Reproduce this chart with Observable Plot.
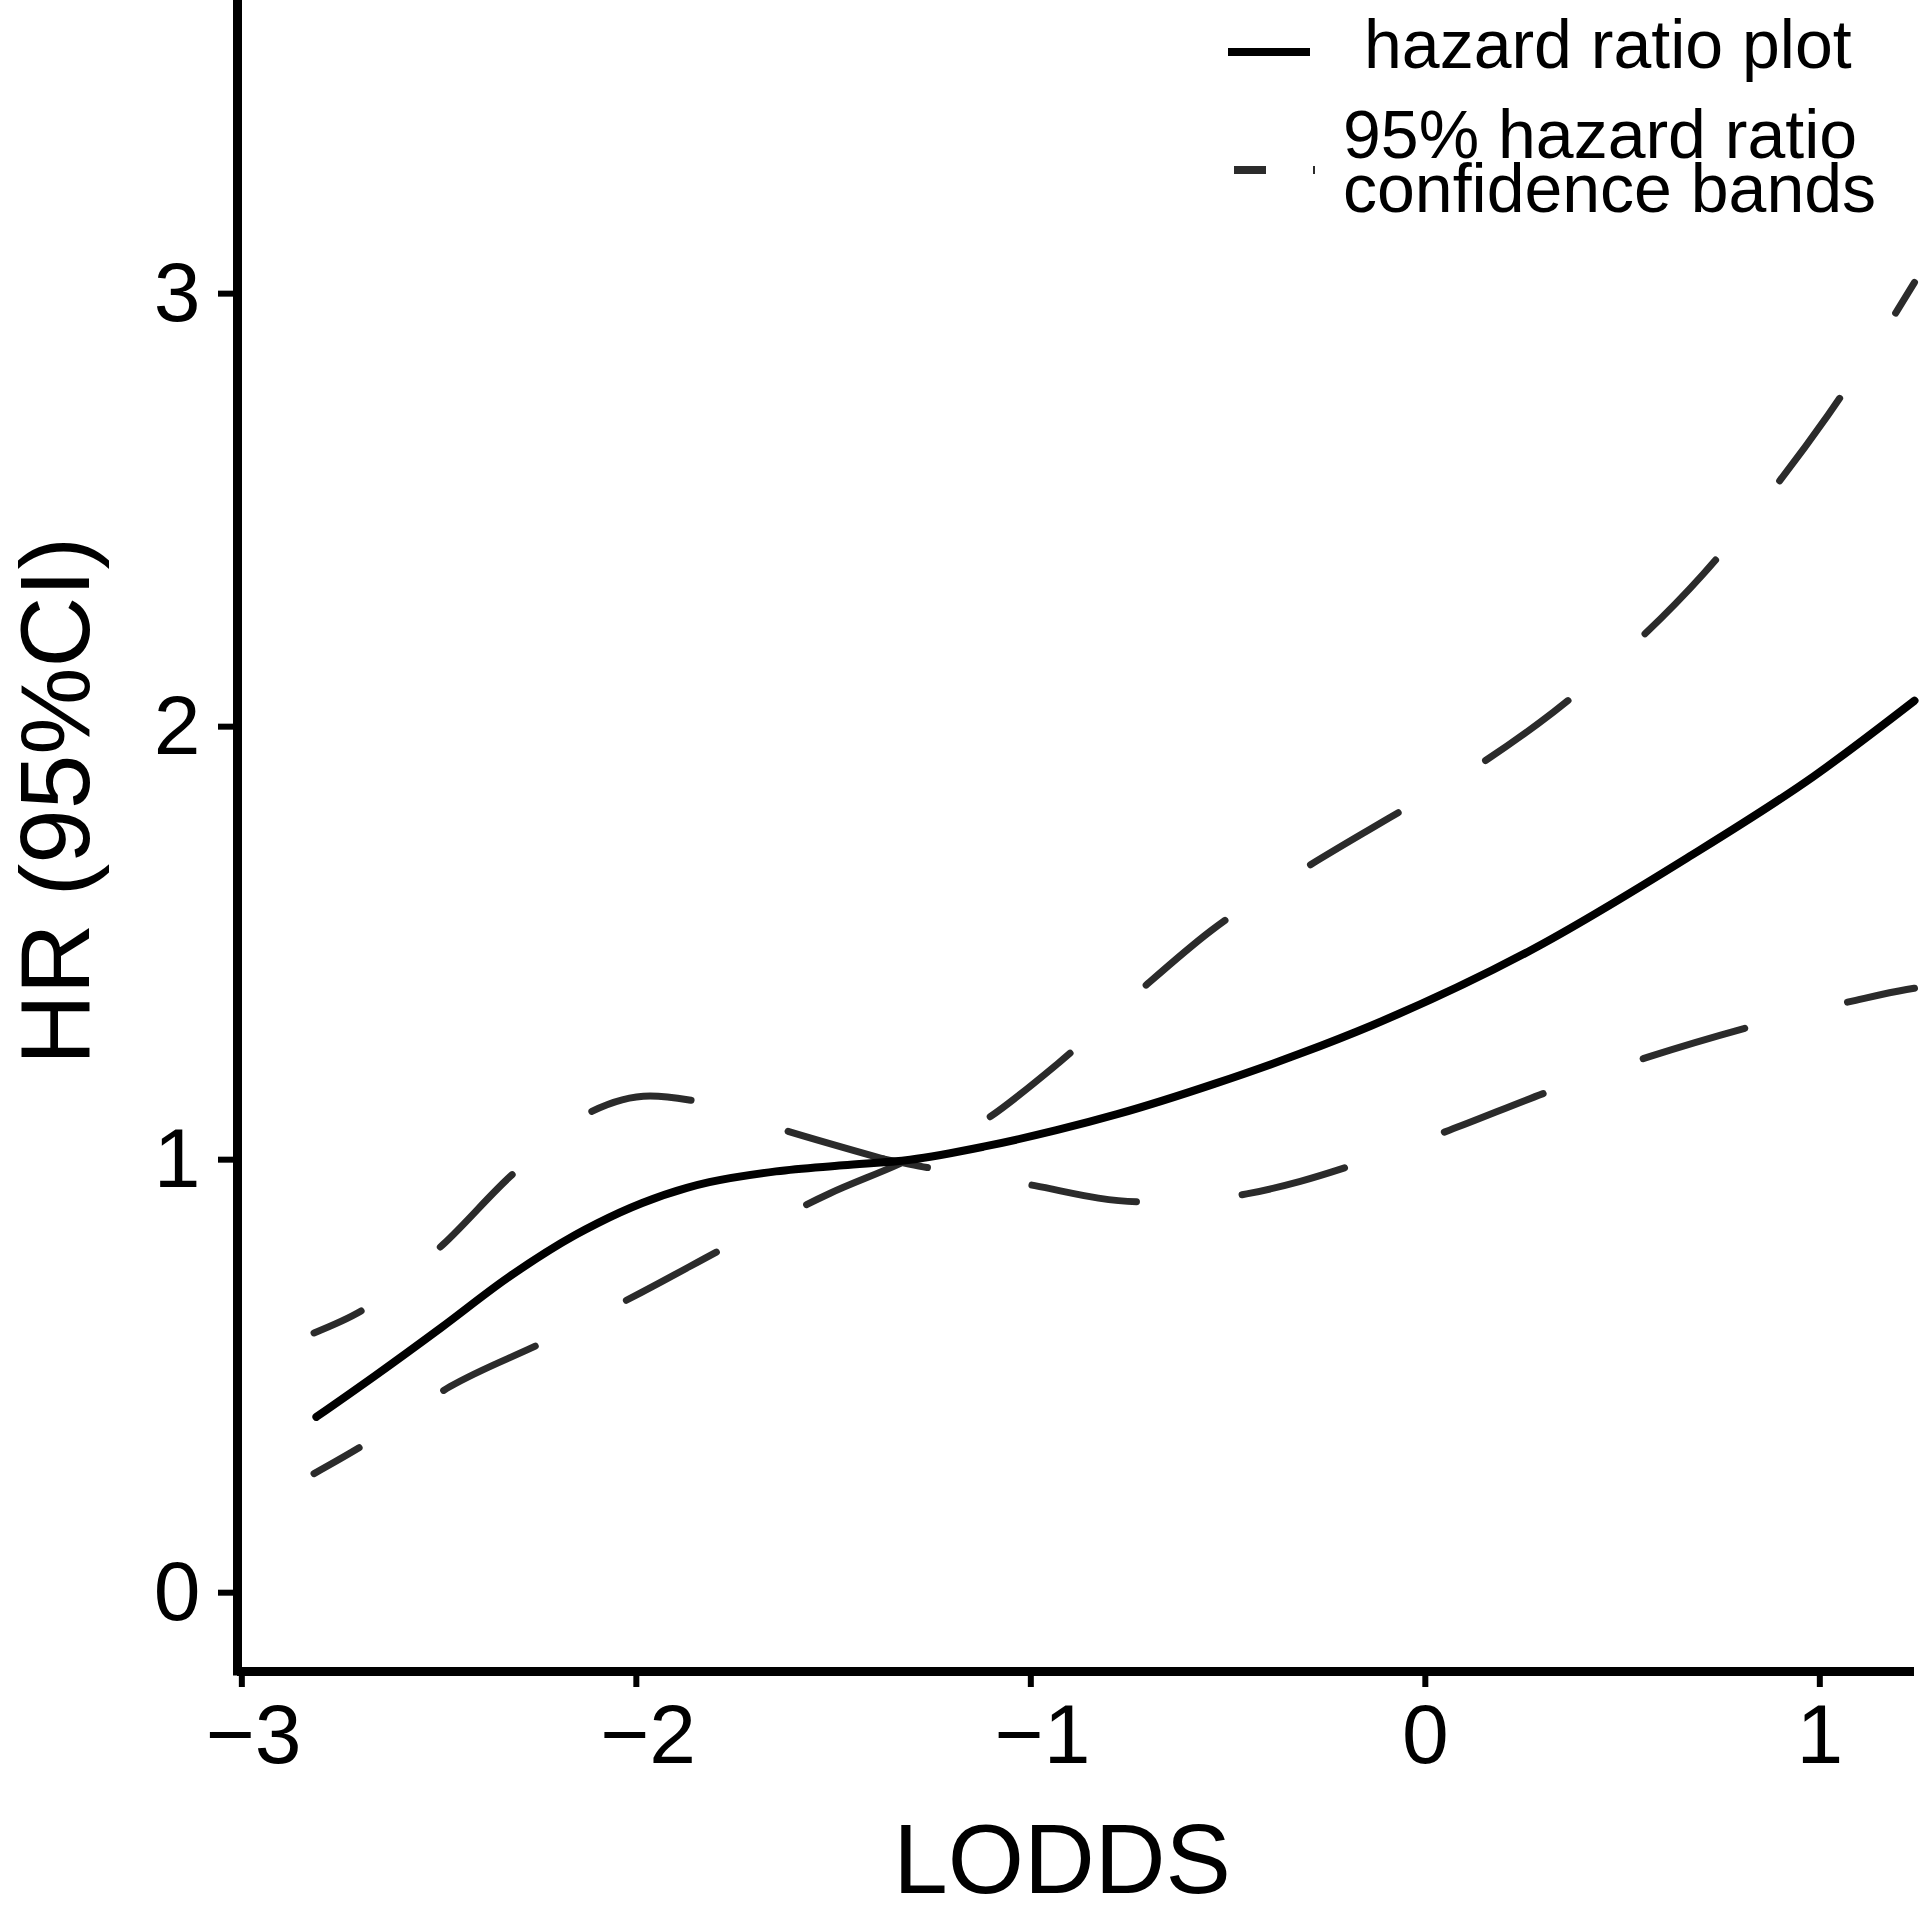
<!DOCTYPE html>
<html>
<head>
<meta charset="utf-8">
<script src="https://cdn.jsdelivr.net/npm/d3@7"></script>
<script src="https://cdn.jsdelivr.net/npm/@observablehq/plot@0.6"></script>
<style>
  html, body { margin: 0; padding: 0; background: #fff; }
  #chart { width: 1919px; height: 1913px; }
</style>
</head>
<body>
<div id="chart"></div>
<script>
// Hazard ratio curve (solid)
const hrX = [-2.811, -2.664, -2.495, -2.325, -2.155, -2.099, -1.985, -1.872, -1.815, -1.646, -1.476, -1.306, -1.120, -0.935, -0.781, -0.535, -0.317, -0.136, 0.264, 0.664, 0.984, 1.240];
const hrY = [0.406, 0.500, 0.612, 0.728, 0.826, 0.853, 0.900, 0.935, 0.948, 0.973, 0.987, 1.000, 1.030, 1.068, 1.105, 1.175, 1.245, 1.310, 1.482, 1.697, 1.885, 2.060];

// Confidence band that is low on the left and high on the right
const bandAX = [-2.817, -2.704, -2.472, -2.234, -1.988, -1.753, -1.510, -1.329, -1.135, -0.930, -0.738, -0.543, -0.328, -0.107, 0.116, 0.325, 0.525, 0.704, 0.872, 1.021, 1.168, 1.240];
const bandAY = [0.275, 0.334, 0.476, 0.579, 0.693, 0.808, 0.922, 0.992, 1.080, 1.223, 1.379, 1.529, 1.660, 1.781, 1.900, 2.034, 2.187, 2.352, 2.537, 2.720, 2.920, 3.026];

// Confidence band that is high on the left and low on the right
const bandBX = [-2.817, -2.695, -2.489, -2.319, -2.116, -1.965, -1.866, -1.617, -1.374, -1.263, -1.100, -0.990, -0.727, -0.600, -0.453, -0.317, -0.195, 0.061, 0.312, 0.568, 0.824, 1.091, 1.220, 1.240];
const bandBY = [0.600, 0.652, 0.805, 0.962, 1.110, 1.147, 1.138, 1.066, 1.002, 0.982, 0.960, 0.940, 0.903, 0.905, 0.921, 0.950, 0.984, 1.068, 1.157, 1.238, 1.307, 1.368, 1.393, 1.396];
const bandBCross = -1.374; // where the dash rhythm of this band restarts in the reference

const xTicks = [-3, -2, -1, 0, 1];
const yTicks = [0, 1, 2, 3];
const xDomain = [-3.011, 1.240];
const yDomain = [-0.182, 3.677];

const xLabel = "LODDS";
const yLabel = "HR (95%CI)";
const legendLabels = ["hazard ratio plot", "95% hazard ratio", "confidence bands"];

const hrData = hrX.map((x, i) => ({x, y: hrY[i]}));
const bandA = bandAX.map((x, i) => ({x, y: bandAY[i]}));
const bandB = bandBX.map((x, i) => ({x, y: bandBY[i]}));
const bandB1 = bandB.filter(d => d.x <= bandBCross);
const bandB2 = bandB.filter(d => d.x >= bandBCross);

const FONT = "'Liberation Sans', Arial, Helvetica, sans-serif";
const intFmt = d3.format("d");
// negative labels sit a little right of their tick in the reference
const xFmt = d => (d < 0 ? "\u00A0" : "") + intFmt(d);
const DASH = "#2b2b2b";

const chart = Plot.plot({
  width: 1919,
  height: 1913,
  marginLeft: 237,
  marginRight: 5,
  marginTop: 0,
  marginBottom: 242,
  style: {fontFamily: FONT, background: "#fff", color: "#000"},
  x: {domain: xDomain},
  y: {domain: yDomain},
  marks: [
    Plot.line(bandA, {x: "x", y: "y", stroke: DASH, strokeWidth: 7, strokeDasharray: "102,102", strokeDashoffset: 50, curve: "monotone-x"}),
    Plot.line(bandB1, {x: "x", y: "y", stroke: DASH, strokeWidth: 7, strokeDasharray: "102,102", strokeDashoffset: 50, curve: "monotone-x"}),
    Plot.line(bandB2, {x: "x", y: "y", stroke: DASH, strokeWidth: 7, strokeDasharray: "106,106", strokeDashoffset: 61, curve: "monotone-x"}),
    Plot.line(hrData, {x: "x", y: "y", stroke: "#000", strokeWidth: 8, curve: "monotone-x"}),
    Plot.axisX({ticks: xTicks, tickSize: 16, tickPadding: 16, strokeWidth: 6, fontSize: 84, label: null, tickFormat: xFmt, color: "#000"}),
    Plot.axisY({ticks: yTicks, tickSize: 19, tickPadding: 18, strokeWidth: 6, fontSize: 84, label: null, tickFormat: intFmt, color: "#000"}),
    Plot.ruleX([xDomain[0]], {stroke: "#000", strokeWidth: 9, strokeLinecap: "square"}),
    Plot.ruleY([yDomain[0]], {stroke: "#000", strokeWidth: 9}),
    Plot.text([xLabel], {frameAnchor: "bottom", dx: -14, dy: 221, lineAnchor: "bottom", textAnchor: "middle", fontSize: 98, fill: "#000"}),
    Plot.text([yLabel], {frameAnchor: "left", rotate: -90, dx: -149, dy: -35, lineAnchor: "bottom", textAnchor: "middle", fontSize: 98, fill: "#000"})
  ]
});

document.getElementById("chart").appendChild(chart);

// Legend (top right, inside the panel)
const svg = d3.select(chart);
const lg = svg.append("g").attr("font-family", FONT).attr("fill", "#000").attr("text-anchor", "start");
lg.append("line").attr("x1", 1228).attr("x2", 1310).attr("y1", 52).attr("y2", 52)
  .attr("stroke", "#000").attr("stroke-width", 8);
lg.append("text").attr("x", 1364).attr("y", 68).attr("font-size", 68).attr("text-anchor", "start").text(legendLabels[0]);
lg.append("line").attr("x1", 1234).attr("x2", 1315).attr("y1", 170).attr("y2", 170)
  .attr("stroke", DASH).attr("stroke-width", 8).attr("stroke-dasharray", "32,47");
lg.append("text").attr("x", 1343).attr("y", 158).attr("font-size", 68).attr("text-anchor", "start").text(legendLabels[1]);
lg.append("text").attr("x", 1343).attr("y", 212).attr("font-size", 68).attr("text-anchor", "start").text(legendLabels[2]);
</script>
</body>
</html>
